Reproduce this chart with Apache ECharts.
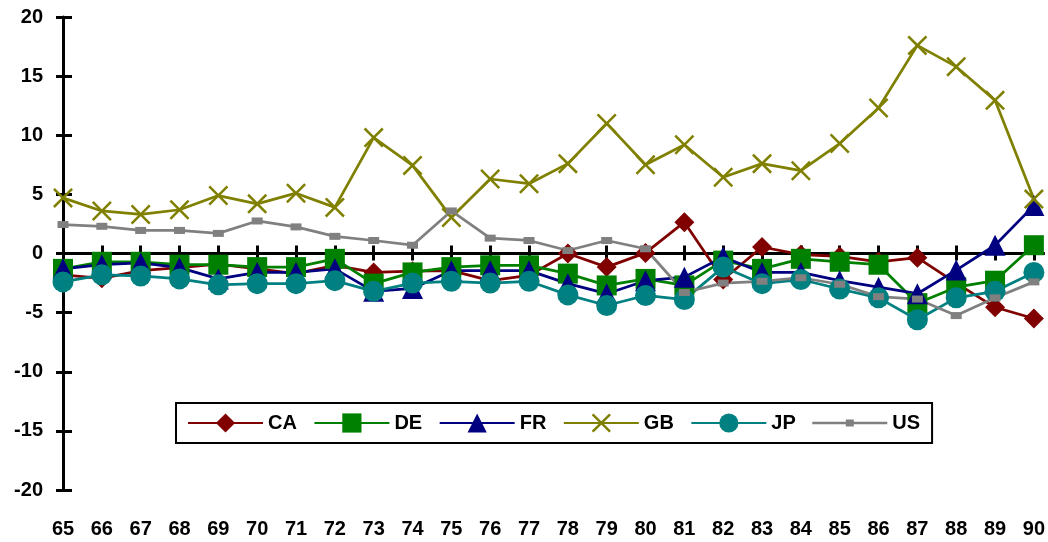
<!DOCTYPE html>
<html>
<head>
<meta charset="utf-8">
<script src="https://cdn.jsdelivr.net/npm/echarts@6/dist/echarts.min.js"></script>
<style>
  html, body { margin: 0; padding: 0; background: #fff; }
  #chart { width: 1048px; height: 542px; }
</style>
</head>
<body>
<div id="chart"></div>
<script>
// Years (two-digit) along the horizontal axis
const years = ['65','66','67','68','69','70','71','72','73','74','75','76','77',
               '78','79','80','81','82','83','84','85','86','87','88','89','90'];

// Series values by country
const CA = [-1.8, -2.1, -1.45, -1.2, -0.9, -1.3, -1.7, -1.0, -1.6, -1.5, -1.45, -2.3, -1.85,
            0.0, -1.15, 0.05, 2.65, -2.2, 0.55, -0.1, -0.25, -0.7, -0.35, -2.5, -4.55, -5.5];
const DE = [-1.3, -0.7, -0.7, -0.95, -0.95, -1.15, -1.15, -0.45, -2.55, -1.6, -1.15, -1.0, -1.0,
            -1.7, -2.7, -2.15, -2.7, -0.6, -1.3, -0.45, -0.7, -0.95, -4.2, -2.85, -2.3, 0.7];
const FR = [-1.3, -0.95, -0.8, -1.2, -2.15, -1.6, -1.6, -1.3, -3.2, -2.95, -1.45, -1.45, -1.45,
            -2.55, -3.4, -2.3, -2.0, -0.3, -1.6, -1.6, -2.3, -2.85, -3.4, -1.4, 0.7, 4.05];
const GB = [4.7, 3.6, 3.3, 3.7, 4.9, 4.2, 5.1, 3.9, 9.8, 7.45, 3.05, 6.3, 5.9,
            7.6, 11.0, 7.5, 9.2, 6.45, 7.6, 7.0, 9.3, 12.3, 17.6, 15.8, 12.95, 4.6];
const JP = [-2.4, -1.8, -1.9, -2.15, -2.65, -2.55, -2.55, -2.3, -3.2, -2.5, -2.35, -2.5, -2.35,
            -3.5, -4.4, -3.55, -3.9, -1.15, -2.55, -2.2, -3.0, -3.75, -5.6, -3.75, -3.2, -1.6];
const US = [2.45, 2.3, 1.95, 1.95, 1.7, 2.75, 2.25, 1.45, 1.1, 0.7, 3.6, 1.3, 1.1,
            0.25, 1.1, 0.4, -3.3, -2.5, -2.35, -2.05, -2.6, -3.65, -3.85, -5.25, -3.75, -2.4];

// Value axis range
const yMin = -20, yMax = 20, yStep = 5;

const FONT = "'Liberation Sans', Arial, sans-serif";
const AXIS_COLOR = '#000';

// Cross-shaped marker (two diagonal bars)
const CROSS = 'path://M0,1.8 L1.8,0 L10,8.2 L18.2,0 L20,1.8 L11.8,10 L20,18.2 L18.2,20 L10,11.8 L1.8,20 L0,18.2 L8.2,10 Z';
// Legend icon: thin line with a small square in the middle (75 x 24 box)
const SMALL_SQUARE_ICON = 'path://M0,0 M75,24 M0,10.8 L75,10.8 L75,13.2 L0,13.2 Z M33.5,8.5 L41.5,8.5 L41.5,15.5 L33.5,15.5 Z';

function lineSeries(name, data, color, symbol, size) {
  return {
    name: name,
    type: 'line',
    data: data,
    xAxisIndex: 0,
    yAxisIndex: 0,
    symbol: symbol,
    symbolSize: size,
    showAllSymbol: true,
    clip: false,
    animation: false,
    lineStyle: { color: color, width: 2.75 },
    itemStyle: { color: color },
    emphasis: { disabled: true }
  };
}

const labelStyle = { fontSize: 20, fontWeight: 'bold', color: '#000', fontFamily: FONT };

const option = {
  animation: false,
  backgroundColor: '#fff',
  grid: { left: 63, right: 13, top: 17, bottom: 52, containLabel: false },
  xAxis: [
    { // year labels along the bottom
      type: 'category', data: years, boundaryGap: false, position: 'bottom',
      axisLine: { show: false, onZero: false },
      axisTick: { show: false },
      axisLabel: Object.assign({ margin: 29, interval: 0 }, labelStyle),
      splitLine: { show: false }
    },
    { // axis line through zero, ticks below
      type: 'category', data: years, boundaryGap: false, position: 'bottom',
      axisLine: {
        show: true, onZero: true, onZeroAxisIndex: 0,
        symbol: ['none', 'rect'], symbolSize: [3, 11], symbolOffset: [0, 5.5],
        lineStyle: { color: AXIS_COLOR, width: 3 }
      },
      axisTick: { show: true, inside: false, length: 7, interval: 0, lineStyle: { color: AXIS_COLOR, width: 3 } },
      axisLabel: { show: false },
      splitLine: { show: false }
    },
    { // ticks above the zero line
      type: 'category', data: years, boundaryGap: false, position: 'bottom',
      axisLine: { show: false, onZero: true, onZeroAxisIndex: 0 },
      axisTick: { show: true, inside: true, length: 8, interval: 0, lineStyle: { color: AXIS_COLOR, width: 3 } },
      axisLabel: { show: false },
      splitLine: { show: false }
    }
  ],
  yAxis: [
    {
      type: 'value', min: yMin, max: yMax, interval: yStep, position: 'left',
      axisLine: { show: true, lineStyle: { color: AXIS_COLOR, width: 3 } },
      axisTick: { show: true, inside: false, length: 7, lineStyle: { color: AXIS_COLOR, width: 3 } },
      axisLabel: Object.assign({ margin: 20 }, labelStyle),
      splitLine: { show: false }
    },
    {
      type: 'value', min: yMin, max: yMax, interval: yStep, position: 'left',
      axisLine: { show: false },
      axisTick: { show: true, inside: true, length: 9, lineStyle: { color: AXIS_COLOR, width: 3 } },
      axisLabel: { show: false },
      splitLine: { show: false }
    }
  ],
  legend: {
    left: 176,
    top: 403,
    orient: 'horizontal',
    itemWidth: 75,
    itemHeight: 24,
    itemGap: 16.5,
    padding: [8, 12, 8, 11],
    borderColor: '#000',
    borderWidth: 2,
    borderRadius: 0,
    backgroundColor: '#fff',
    selectedMode: false,
    textStyle: { fontSize: 20, fontWeight: 'bold', color: '#000', fontFamily: FONT },
    data: [
      { name: 'CA' }, { name: 'DE' }, { name: 'FR' }, { name: 'GB' }, { name: 'JP' },
      { name: 'US', icon: SMALL_SQUARE_ICON }
    ]
  },
  series: [
    lineSeries('CA', CA, '#800000', 'diamond', 20),
    lineSeries('DE', DE, '#008000', 'rect', 20),
    lineSeries('FR', FR, '#000080', 'triangle', 21),
    lineSeries('GB', GB, '#808000', CROSS, 20),
    lineSeries('JP', JP, '#008080', 'circle', 21),
    lineSeries('US', US, '#808080', 'rect', [11, 7])
  ]
};

const chart = echarts.init(document.getElementById('chart'), null, { renderer: 'canvas' });
chart.setOption(option);
</script>
</body>
</html>
